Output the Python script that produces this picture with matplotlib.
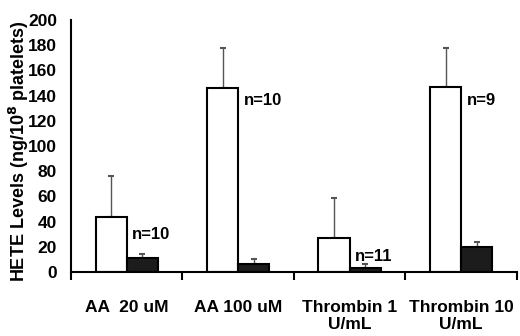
import matplotlib
matplotlib.use("Agg")
import matplotlib.pyplot as plt
import numpy as np

# ---- data ----
categories = ["AA  20 uM", "AA 100 uM", "Thrombin 1\nU/mL", "Thrombin 10\nU/mL"]
white_vals = [44, 146, 27, 147]
white_err = [32, 32, 32, 31]
black_vals = [11, 6, 3, 20]
black_err = [3, 4, 3.5, 4]
n_labels = ["n=10", "n=10", "n=11", "n=9"]
n_ypos = [30, 136, 12, 136]

plt.rcParams['font.family'] = ['Liberation Sans', 'DejaVu Sans']
plt.rcParams['font.weight'] = 'bold'

fig = plt.figure(figsize=(5.2, 3.36), dpi=100)
ax = fig.add_axes([0.1365, 0.1905, 0.8575, 0.75])

x = np.arange(len(categories))
w = 0.28
ax.bar(x - w/2, white_vals, w, color='white', edgecolor='black', linewidth=1.5)
ax.bar(x + w/2, black_vals, w, color='#1c1c1c', edgecolor='black', linewidth=1.5)
# upward-only error bars
ax.errorbar(x - w/2, white_vals, yerr=[np.zeros(4), white_err], fmt='none',
            ecolor='#555555', elinewidth=1, capsize=2, capthick=1.5, zorder=0)
ax.errorbar(x + w/2, black_vals, yerr=[np.zeros(4), black_err], fmt='none',
            ecolor='#555555', elinewidth=1, capsize=2, capthick=1.5, zorder=0)

for i in range(len(categories)):
    ax.text(x[i] + 0.05, n_ypos[i], n_labels[i], fontsize=12, fontweight='bold',
            va='center', ha='left')

ax.set_xlim(-0.5, len(categories) - 0.5)
ax.set_ylim(0, 200)
ax.set_yticks(np.arange(0, 201, 20))
ax.tick_params(axis='y', length=0, labelsize=12.5, pad=10)
ax.set_xticks(x)
ax.set_xticklabels(categories, fontsize=12.5, fontweight='bold', linespacing=1.2)
ax.tick_params(axis='x', which='major', length=0, pad=20)
ax.set_xticks(np.arange(-0.5, len(categories), 1.0), minor=True)
ax.tick_params(axis='x', which='minor', length=6, width=1.5, direction='out')

ax.spines['top'].set_visible(False)
ax.spines['right'].set_visible(False)
ax.spines['left'].set_linewidth(1.5)
ax.spines['bottom'].set_linewidth(1.5)

ax.set_ylabel("HETE Levels (ng/10$^{\\mathbf{8}}$ platelets)", fontsize=13,
              fontweight='bold')
ax.yaxis.set_label_coords(-0.09, 0.48)

fig.savefig("out.png", dpi=100)
